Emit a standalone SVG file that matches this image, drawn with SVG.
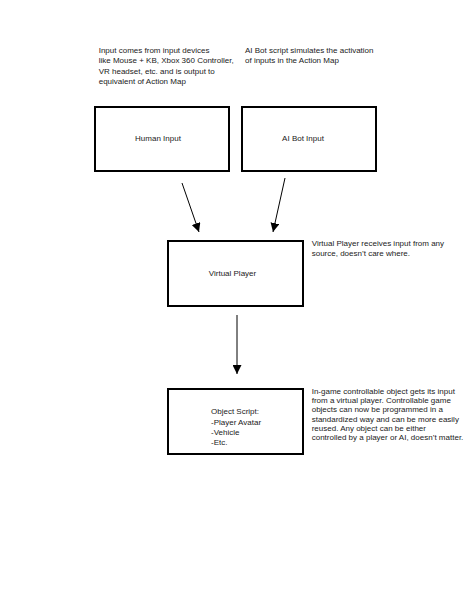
<svg xmlns="http://www.w3.org/2000/svg" width="474" height="613" viewBox="0 0 474 613">
<style>
.box{fill:#fff;stroke:#000;stroke-width:2}
.t{font-family:"Liberation Sans","Open Sans",Arial,sans-serif;font-size:8px;fill:#222}
.c{text-anchor:middle}
.conn{stroke:#000;stroke-width:1;fill:none}
</style>
<defs>
<marker id="ah" markerUnits="userSpaceOnUse" markerWidth="9" markerHeight="9" viewBox="0 0 9 9" refX="9" refY="4.5" orient="auto">
<path d="M0,0 L9,4.5 L0,9 z" fill="#000"/>
</marker>
</defs>
<rect width="474" height="613" fill="#fff"/>
<g id="notes">
<text class="t" x="98.7" y="53">Input comes from input devices</text>
<text class="t" x="98.7" y="63.3">like Mouse + KB, Xbox 360 Controller,</text>
<text class="t" x="98.7" y="73.6">VR headset, etc. and is output to</text>
<text class="t" x="98.7" y="84">equivalent of Action Map</text>
<text class="t" x="245" y="53">AI Bot script simulates the activation</text>
<text class="t" x="245" y="63.3">of inputs in the Action Map</text>
<text class="t" x="311.7" y="246">Virtual Player receives input from any</text>
<text class="t" x="311.7" y="256">source, doesn’t care where.</text>
<text class="t" x="311.7" y="394">In-game controllable object gets its input</text>
<text class="t" x="311.7" y="403.2">from a virtual player. Controllable game</text>
<text class="t" x="311.7" y="412.4">objects can now be programmed in a</text>
<text class="t" x="311.7" y="421.6">standardized way and can be more easily</text>
<text class="t" x="311.7" y="430.8">reused. Any object can be either</text>
<text class="t" x="311.7" y="440">controlled by a player or AI, doesn’t matter.</text>
</g>
<g id="human-input">
<rect class="box" x="95" y="107" width="134" height="64"/>
<text class="t c" x="158" y="141">Human Input</text>
</g>
<g id="ai-bot-input">
<rect class="box" x="242" y="107" width="134" height="64"/>
<text class="t c" x="303" y="141">AI Bot Input</text>
</g>
<g id="virtual-player">
<rect class="box" x="168" y="241" width="135" height="65"/>
<text class="t c" x="232.5" y="276">Virtual Player</text>
</g>
<g id="object-script">
<rect class="box" x="168" y="389" width="135" height="65"/>
<text class="t" x="211" y="414">Object Script:</text>
<text class="t" x="211" y="424.5">-Player Avatar</text>
<text class="t" x="211" y="435">-Vehicle</text>
<text class="t" x="211" y="445">-Etc.</text>
</g>
<g id="connectors">
<line class="conn" x1="182" y1="183" x2="199" y2="232" marker-end="url(#ah)"/>
<line class="conn" x1="285" y1="178" x2="273" y2="232" marker-end="url(#ah)"/>
<line class="conn" x1="237" y1="315" x2="237" y2="374" marker-end="url(#ah)"/>
</g>
</svg>
